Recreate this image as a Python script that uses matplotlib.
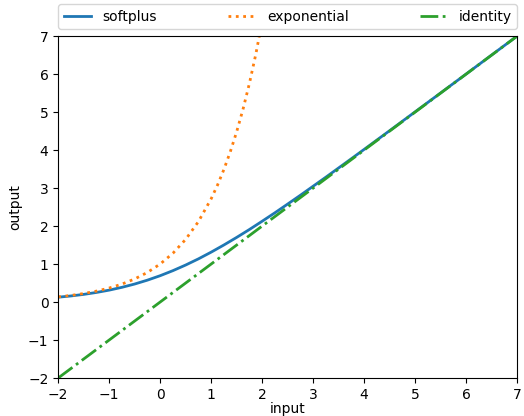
import matplotlib
matplotlib.use("Agg")
import matplotlib.pyplot as plt

# values
softplus_x = [-2, -1.75, -1.5, -1.25, -1, -0.75, -0.5, -0.25, 0, 0.25, 0.5, 0.75, 1,
              1.25, 1.5, 1.75, 2, 2.25, 2.5, 2.75, 3, 3.25, 3.5, 3.75, 4, 4.5, 5,
              5.5, 6, 6.5, 7]
softplus_y = [0.127, 0.160, 0.201, 0.252, 0.313, 0.387, 0.474, 0.576, 0.693, 0.826,
              0.974, 1.136, 1.313, 1.502, 1.701, 1.909, 2.127, 2.349, 2.579, 2.811,
              3.049, 3.287, 3.530, 3.773, 4.018, 4.511, 5.007, 5.504, 6.002, 6.502,
              7.001]

exp_x = [-2, -1.75, -1.5, -1.25, -1, -0.75, -0.5, -0.25, 0, 0.25, 0.5, 0.75, 1,
         1.125, 1.25, 1.375, 1.5, 1.625, 1.75, 1.875, 2]
exp_y = [0.135, 0.174, 0.223, 0.287, 0.368, 0.472, 0.607, 0.779, 1.0, 1.284, 1.649,
         2.117, 2.718, 3.080, 3.490, 3.956, 4.482, 5.078, 5.755, 6.521, 7.389]

ident_x = [-2, 7]
ident_y = [-2, 7]

xticks = [-2, -1, 0, 1, 2, 3, 4, 5, 6, 7]
yticks = [-2, -1, 0, 1, 2, 3, 4, 5, 6, 7]

fig = plt.figure(figsize=(5.24, 4.16), dpi=100)
ax = fig.add_axes([0.111, 0.0913, 0.876, 0.822])
ax.plot(softplus_x, softplus_y, '-', color='#1f77b4', lw=2, label='softplus')
ax.plot(exp_x, exp_y, ':', color='#ff7f0e', lw=2, label='exponential')
ax.plot(ident_x, ident_y, '-.', color='#2ca02c', lw=2, label='identity')
ax.set_xlim(-2, 7)
ax.set_ylim(-2, 7)
ax.set_xticks(xticks)
ax.set_yticks(yticks)
ax.set_xlabel('input', labelpad=0)
ax.set_ylabel('output')
ax.legend(bbox_to_anchor=(0, 1.02, 1, 0.102), loc='lower left', ncol=3,
          mode='expand', borderaxespad=0)
fig.savefig('out.png', dpi=100)
